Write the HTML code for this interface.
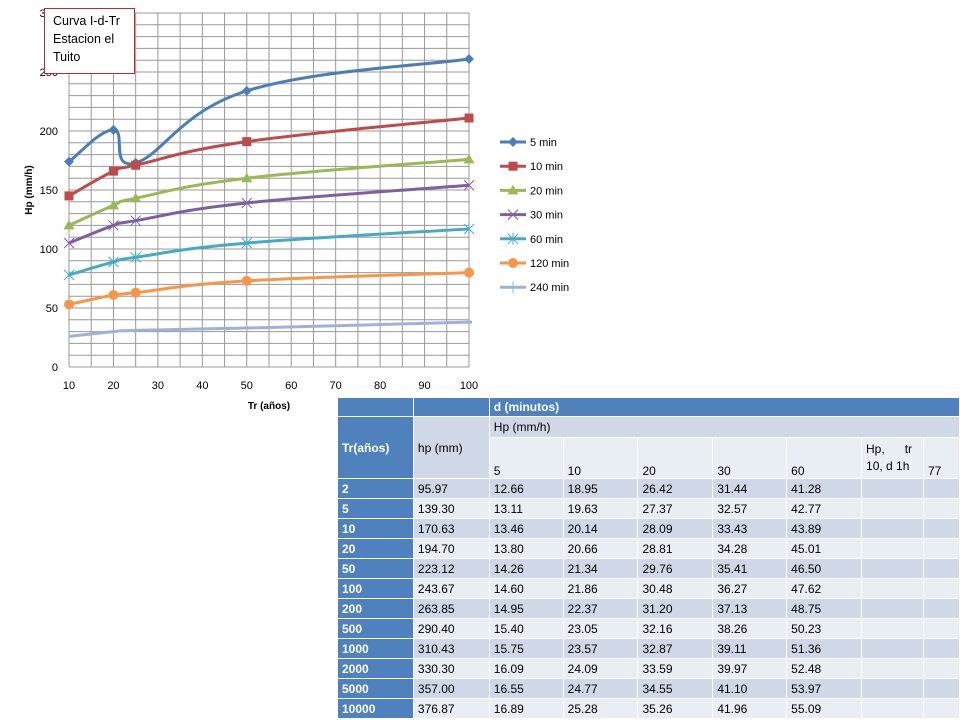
<!DOCTYPE html>
<html><head><meta charset="utf-8"><style>
body{margin:0;width:960px;height:720px;background:#fff;position:relative;overflow:hidden;font-family:"Liberation Sans",sans-serif}
svg{position:absolute;left:0;top:0}
table{position:absolute;left:337px;top:397px;border-collapse:collapse;font-family:"Liberation Sans",sans-serif;font-size:12px;color:#000}
td{border:1px solid #fff;padding:0 0 0 4px;height:19px;box-sizing:border-box;vertical-align:middle;white-space:nowrap}
.h{background:#4F81BD;color:#fff;font-weight:bold}
.a{background:#D0D8E8}.b{background:#E9EDF4}
</style></head><body>
<svg id="s" width="960" height="720" xmlns="http://www.w3.org/2000/svg" font-family="Liberation Sans, sans-serif"></svg>
<table>
<colgroup><col style="width:76px"><col style="width:76px"><col style="width:74px"><col style="width:75px"><col style="width:75px"><col style="width:74px"><col style="width:75px"><col style="width:62px"><col style="width:36px"></colgroup>
<tr><td class="h"></td><td class="h"></td><td class="h" colspan="7">d (minutos)</td></tr>
<tr><td class="h" rowspan="2" style="font-size:12px">Tr(años)</td><td class="a" rowspan="2">hp (mm)</td><td class="a" colspan="7" style="height:21px">Hp (mm/h)</td></tr>
<tr style="height:41px"><td class="b" style="vertical-align:bottom">5</td><td class="b" style="vertical-align:bottom">10</td><td class="b" style="vertical-align:bottom">20</td><td class="b" style="vertical-align:bottom">30</td><td class="b" style="vertical-align:bottom">60</td><td class="b" style="line-height:17px">Hp,&nbsp;&nbsp;&nbsp;&nbsp;&nbsp;&nbsp;tr<br>10, d 1h</td><td class="b" style="vertical-align:bottom">77</td></tr>
<tbody id="tb"></tbody>
</table>
<script>
var rows=[["2","95.97","12.66","18.95","26.42","31.44","41.28"],["5","139.30","13.11","19.63","27.37","32.57","42.77"],["10","170.63","13.46","20.14","28.09","33.43","43.89"],["20","194.70","13.80","20.66","28.81","34.28","45.01"],["50","223.12","14.26","21.34","29.76","35.41","46.50"],["100","243.67","14.60","21.86","30.48","36.27","47.62"],["200","263.85","14.95","22.37","31.20","37.13","48.75"],["500","290.40","15.40","23.05","32.16","38.26","50.23"],["1000","310.43","15.75","23.57","32.87","39.11","51.36"],["2000","330.30","16.09","24.09","33.59","39.97","52.48"],["5000","357.00","16.55","24.77","34.55","41.10","53.97"],["10000","376.87","16.89","25.28","35.26","41.96","55.09"]];
var h="";rows.forEach(function(r,i){var c=i%2?"b":"a";h+='<tr style="height:20px"><td class="h">'+r[0]+'</td>';for(var j=1;j<7;j++)h+='<td class="'+c+'">'+r[j]+'</td>';h+='<td class="'+c+'"></td><td class="'+c+'"></td></tr>';});
document.getElementById("tb").innerHTML=h;
var s="";function X(x){return 69+(x-10)*400/90}function Y(v){return 367-v*1.18}
for(var x=10;x<=100;x+=5)s+='<line x1="'+X(x)+'" y1="13" x2="'+X(x)+'" y2="367" stroke="#999" stroke-width="1"/>';
for(var v=0;v<=300;v+=10)s+='<line x1="69" y1="'+Y(v)+'" x2="469" y2="'+Y(v)+'" stroke="#999" stroke-width="1"/>';
for(var x=10;x<=100;x+=10)s+='<text x="'+X(x)+'" y="389" font-size="11" text-anchor="middle">'+x+'</text>';
for(var v=0;v<=300;v+=50)s+='<text x="58" y="'+(Y(v)+4)+'" font-size="11" text-anchor="end">'+v+'</text>';
s+='<text x="269" y="409" font-size="10" font-weight="bold" text-anchor="middle">Tr (años)</text>';
s+='<text transform="translate(32,190) rotate(-90)" font-size="10" font-weight="bold" text-anchor="middle">Hp (mm/h)</text>';
var xs=[10,20,25,50,100];
var ser=[["#4A7EBB",[174,201,173,234,261],"d"],["#BE4B48",[145,166,171,191,211],"s"],["#98B954",[120,137,143,160,176],"t"],["#7D60A0",[105,120,124,139,154],"x"],["#46AAC5",[78,89,93,105,117],"a"],["#F79646",[53,61,63,73,80],"c"],["#9DB2D9",[26,30,31,33,38],"p"]];
function mk(t,x,y,c){if(t=="d")return '<path d="M'+x+' '+(y-5)+'L'+(x+5)+' '+y+'L'+x+' '+(y+5)+'L'+(x-5)+' '+y+'Z" fill="'+c+'"/>';
if(t=="s")return '<rect x="'+(x-4.5)+'" y="'+(y-4.5)+'" width="9" height="9" fill="'+c+'"/>';
if(t=="t")return '<path d="M'+x+' '+(y-5.5)+'L'+(x+5.5)+' '+(y+4)+'L'+(x-5.5)+' '+(y+4)+'Z" fill="'+c+'"/>';
if(t=="x")return '<path d="M'+(x-5)+' '+(y-5)+'L'+(x+5)+' '+(y+5)+'M'+(x+5)+' '+(y-5)+'L'+(x-5)+' '+(y+5)+'" stroke="'+c+'" stroke-width="1"/>';
if(t=="a")return '<path d="M'+(x-5)+' '+(y-5)+'L'+(x+5)+' '+(y+5)+'M'+(x+5)+' '+(y-5)+'L'+(x-5)+' '+(y+5)+'M'+x+' '+(y-6)+'L'+x+' '+(y+6)+'" stroke="'+c+'" stroke-width="1"/>';
if(t=="c")return '<circle cx="'+x+'" cy="'+y+'" r="5" fill="'+c+'"/>';
if(t=="p")return '<path d="M'+x+' '+(y-6)+'L'+x+' '+(y+6)+'" stroke="'+c+'" stroke-width="1"/>';return ""}
ser.forEach(function(S,k){var p=xs.map(function(x,i){return [X(x),Y(S[1][i])]});
var d="M"+p[0][0]+" "+p[0][1];var t=0.3;
for(var i=0;i<p.length-1;i++){var p0=p[i-1]||p[i],p1=p[i],p2=p[i+1],p3=p[i+2]||p2;
d+="C"+(p1[0]+(p2[0]-p0[0])*t/1.5)+" "+(p1[1]+(p2[1]-p0[1])*t/1.5)+" "+(p2[0]-(p3[0]-p1[0])*t/1.5)+" "+(p2[1]-(p3[1]-p1[1])*t/1.5)+" "+p2[0]+" "+p2[1];}
if(S[2]=="p")d+="L"+(X(100)+3)+" "+Y(38);
s+='<path d="'+d+'" fill="none" stroke="'+S[0]+'" stroke-width="3"/>';
if(S[2]!="p")p.forEach(function(q){s+=mk(S[2],q[0],q[1],S[0])});
var ly=142+k*24.2;s+='<line x1="500" y1="'+ly+'" x2="526" y2="'+ly+'" stroke="'+S[0]+'" stroke-width="3"/>'+mk(S[2],513,ly,S[0]);
s+='<text x="530" y="'+(ly+4)+'" font-size="11">'+["5 min","10  min","20  min","30  min","60  min","120  min","240  min"][k]+'</text>';});
s+='<rect x="44.5" y="8.5" width="90" height="65" fill="#fff" stroke="#C0272D" stroke-width="1"/>';
s+='<text font-size="12.5" x="53" y="25">Curva I-d-Tr</text><text font-size="12.5" x="53" y="43">Estacion el</text><text font-size="12.5" x="53" y="61">Tuito</text>';
document.getElementById("s").innerHTML=s;
</script>
</body></html>
